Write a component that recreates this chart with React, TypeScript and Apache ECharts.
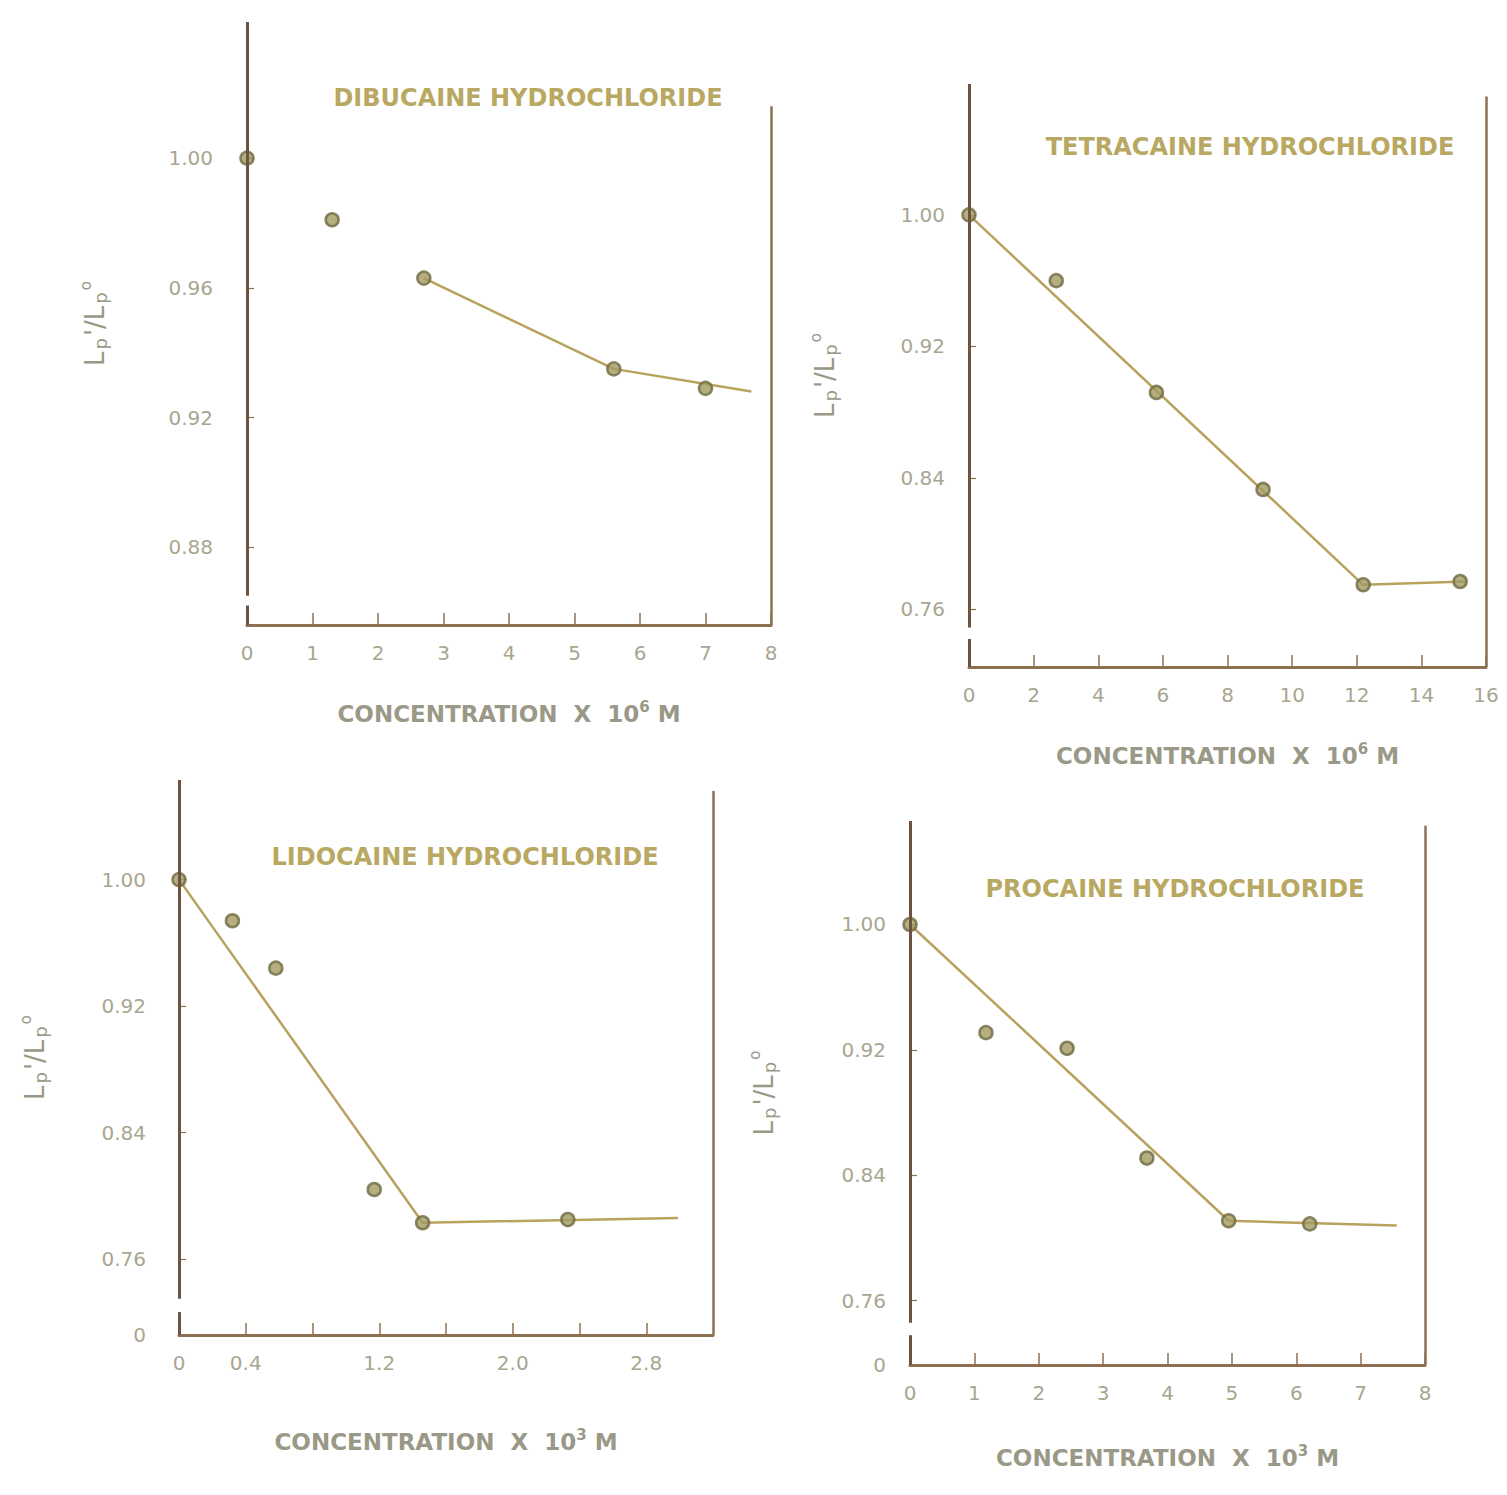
import React, { useEffect, useRef } from "react";
import * as echarts from "echarts";

// ---------- data ----------
const TITLES = [
  "DIBUCAINE HYDROCHLORIDE",
  "TETRACAINE HYDROCHLORIDE",
  "LIDOCAINE HYDROCHLORIDE",
  "PROCAINE HYDROCHLORIDE",
];
const X_EXPONENTS = ["6", "6", "3", "3"];

// Panel 1 – dibucaine (x 10^-6 M)
const P1_X = [0, 1.3, 2.7, 5.6, 7.0];
const P1_Y = [1.0, 0.981, 0.963, 0.935, 0.929];
const P1_FIT_X = [2.7, 5.6, 7.7];
const P1_FIT_Y = [0.963, 0.935, 0.928];
const P1_YLABELS = [0.88, 0.92, 0.96, 1.0];
const P1_XLABELS = [0, 1, 2, 3, 4, 5, 6, 7, 8];

// Panel 2 – tetracaine (x 10^-6 M)
const P2_X = [0, 2.7, 5.8, 9.1, 12.2, 15.2];
const P2_Y = [1.0, 0.96, 0.892, 0.833, 0.775, 0.777];
const P2_FIT_X = [0, 12.2, 15.4];
const P2_FIT_Y = [1.0, 0.775, 0.777];
const P2_YLABELS = [0.76, 0.84, 0.92, 1.0];
const P2_XLABELS = [0, 2, 4, 6, 8, 10, 12, 14, 16];

// Panel 3 – lidocaine (x 10^-3 M)
const P3_X = [0, 0.32, 0.58, 1.17, 1.46, 2.33];
const P3_Y = [1.0, 0.974, 0.944, 0.804, 0.783, 0.785];
const P3_FIT_X = [0, 1.46, 2.99];
const P3_FIT_Y = [1.0, 0.783, 0.786];
const P3_YLABELS = [0, 0.76, 0.84, 0.92, 1.0];
const P3_XLABELS = [0, 0.4, 1.2, 2.0, 2.8];
const P3_XTICKS = [0.4, 0.8, 1.2, 1.6, 2.0, 2.4, 2.8];

// Panel 4 – procaine (x 10^-3 M)
const P4_X = [0, 1.18, 2.44, 3.68, 4.95, 6.21];
const P4_Y = [1.0, 0.931, 0.921, 0.851, 0.811, 0.809];
const P4_FIT_X = [0, 4.95, 7.56];
const P4_FIT_Y = [1.0, 0.811, 0.808];
const P4_YLABELS = [0, 0.76, 0.84, 0.92, 1.0];
const P4_XLABELS = [0, 1, 2, 3, 4, 5, 6, 7, 8];

// ---------- styles / layout ----------
const AXIS_DARK = "#6e5440";
const AXIS_MID = "#8f7152";
const FIT_COLOR = "#b8a25e";
const MARK_FILL = "#a39a62";
const MARK_EDGE = "#6e6a40";
const LABEL_COLOR = "#a8a690";
const TITLE_COLOR = "#b9a862";
const NAME_COLOR = "#9a9886";
const FONT = "DejaVu Sans";

type Panel = {
  grid: { left: number; top: number; width: number; height: number };
  xMin: number; xMax: number; yMin: number; yMax: number;
  xs: number[]; ys: number[]; fx: number[]; fy: number[];
  yLabels: number[]; xLabels: number[]; xTicks: number[];
  yDigits: number; xDigits: number;
  yMargin: number; yNameGap: number; xNameGap: number;
  rightTop: number; breakTop: number; stubTop: number;
  title: [number, number];
};

const PANELS: Panel[] = [
  {
    grid: { left: 247, top: 22, width: 524, height: 603 },
    xMin: 0, xMax: 8, yMin: 0.856, yMax: 1.042,
    xs: P1_X, ys: P1_Y, fx: P1_FIT_X, fy: P1_FIT_Y,
    yLabels: P1_YLABELS, xLabels: P1_XLABELS, xTicks: P1_XLABELS,
    yDigits: 2, xDigits: 0, yMargin: 34, yNameGap: 136, xNameGap: 74,
    rightTop: 1.016, breakTop: 0.865, stubTop: 0.862, title: [528, 98],
  },
  {
    grid: { left: 969, top: 84, width: 517, height: 583 },
    xMin: 0, xMax: 16, yMin: 0.725, yMax: 1.0796,
    xs: P2_X, ys: P2_Y, fx: P2_FIT_X, fy: P2_FIT_Y,
    yLabels: P2_YLABELS, xLabels: P2_XLABELS, xTicks: P2_XLABELS,
    yDigits: 2, xDigits: 0, yMargin: 24, yNameGap: 128, xNameGap: 74,
    rightTop: 1.072, breakTop: 0.749, stubTop: 0.742, title: [1250, 147],
  },
  {
    grid: { left: 179, top: 780, width: 534, height: 555 },
    xMin: 0, xMax: 3.2, yMin: 0.712, yMax: 1.063,
    xs: P3_X, ys: P3_Y, fx: P3_FIT_X, fy: P3_FIT_Y,
    yLabels: P3_YLABELS, xLabels: P3_XLABELS, xTicks: P3_XTICKS,
    yDigits: 2, xDigits: 1, yMargin: 33, yNameGap: 128, xNameGap: 92,
    rightTop: 1.056, breakTop: 0.735, stubTop: 0.7265, title: [465, 857],
  },
  {
    grid: { left: 910, top: 821, width: 515, height: 544 },
    xMin: 0, xMax: 8, yMin: 0.719, yMax: 1.066,
    xs: P4_X, ys: P4_Y, fx: P4_FIT_X, fy: P4_FIT_Y,
    yLabels: P4_YLABELS, xLabels: P4_XLABELS, xTicks: P4_XLABELS,
    yDigits: 2, xDigits: 0, yMargin: 24, yNameGap: 130, xNameGap: 78,
    rightTop: 1.063, breakTop: 0.746, stubTop: 0.738, title: [1175, 889],
  },
];

function buildOption() {
  const grid: any[] = [];
  const xAxis: any[] = [];
  const yAxis: any[] = [];
  const series: any[] = [];
  const graphic: any[] = [];

  PANELS.forEach((p, i) => {
    grid.push({ ...p.grid, containLabel: false, show: false });

    xAxis.push({
      type: "value",
      gridIndex: i,
      min: p.xMin,
      max: p.xMax,
      name: `CONCENTRATION  X  10{s|${X_EXPONENTS[i]}} M`,
      nameLocation: "middle",
      nameGap: p.xNameGap,
      nameTextStyle: {
        color: NAME_COLOR,
        fontFamily: FONT,
        fontSize: 23,
        fontWeight: "bold",
        rich: {
          s: { fontSize: 15, color: NAME_COLOR, fontWeight: "bold", fontFamily: FONT, padding: [0, 0, 14, 0] },
        },
      },
      axisLine: { show: true, onZero: false, lineStyle: { color: AXIS_MID, width: 3 } },
      axisTick: {
        show: true,
        inside: true,
        length: 12,
        customValues: p.xTicks,
        lineStyle: { color: AXIS_MID, width: 1.5 },
      },
      axisLabel: {
        show: true,
        customValues: p.xLabels,
        margin: 18,
        color: LABEL_COLOR,
        fontFamily: FONT,
        fontSize: 20,
        formatter: (v: number) => (v === 0 ? "0" : v.toFixed(p.xDigits)),
      },
      splitLine: { show: false },
    });

    yAxis.push({
      type: "value",
      gridIndex: i,
      min: p.yMin,
      max: p.yMax,
      name: "{a|L}{b|p}{a|'/L}{b|p}{c|o}",
      nameLocation: "middle",
      nameRotate: 90,
      nameGap: p.yNameGap,
      nameTextStyle: {
        color: NAME_COLOR,
        fontFamily: FONT,
        rich: {
          a: { fontSize: 26, color: NAME_COLOR, fontFamily: FONT },
          b: { fontSize: 18, color: NAME_COLOR, fontFamily: FONT, padding: [12, 2, 0, 2] },
          c: { fontSize: 15, color: NAME_COLOR, fontFamily: FONT, padding: [0, 0, 18, 0] },
        },
      },
      axisLine: { show: false },
      axisTick: {
        show: true,
        inside: true,
        length: 7,
        customValues: p.yLabels.map((v) => (v === 0 ? p.yMin : v)),
        lineStyle: { color: AXIS_MID, width: 1.2 },
      },
      axisLabel: {
        show: true,
        customValues: p.yLabels.map((v) => (v === 0 ? p.yMin : v)),
        margin: p.yMargin,
        color: LABEL_COLOR,
        fontFamily: FONT,
        fontSize: 20,
        formatter: (v: number) => (Math.abs(v - p.yMin) < 1e-6 ? "0" : v.toFixed(p.yDigits)),
      },
      splitLine: { show: false },
    });

    // fitted line + frame segments (left axis with break, right border)
    series.push({
      type: "line",
      xAxisIndex: i,
      yAxisIndex: i,
      data: p.fx.map((x, k) => [x, p.fy[k]]),
      showSymbol: false,
      symbol: "none",
      clip: false,
      silent: true,
      lineStyle: { color: FIT_COLOR, width: 2.5 },
      z: 2,
      markLine: {
        silent: true,
        symbol: "none",
        label: { show: false },
        lineStyle: { color: AXIS_DARK, width: 3, type: "solid" },
        data: [
          [{ coord: [p.xMin, p.breakTop] }, { coord: [p.xMin, p.yMax] }],
          [{ coord: [p.xMin, p.yMin] }, { coord: [p.xMin, p.stubTop] }],
          [
            { coord: [p.xMax, p.yMin], lineStyle: { color: AXIS_MID, width: 2.5 } },
            { coord: [p.xMax, p.rightTop] },
          ],
        ],
      },
    });

    series.push({
      type: "scatter",
      xAxisIndex: i,
      yAxisIndex: i,
      data: p.xs.map((x, k) => [x, p.ys[k]]),
      symbol: "circle",
      symbolSize: 13,
      clip: false,
      itemStyle: { color: MARK_FILL, borderColor: MARK_EDGE, borderWidth: 2.5 },
      z: 3,
    });

    graphic.push({
      type: "text",
      x: p.title[0],
      y: p.title[1],
      style: {
        text: TITLES[i],
        fill: TITLE_COLOR,
        font: `bold 24px "${FONT}"`,
        textAlign: "center",
        textVerticalAlign: "middle",
      },
    });
  });

  return {
    animation: false,
    backgroundColor: "#ffffff",
    grid,
    xAxis,
    yAxis,
    series,
    graphic,
  };
}

export default function App() {
  const ref = useRef<HTMLDivElement>(null);
  useEffect(() => {
    document.body.style.margin = "0";
    if (!ref.current) return;
    const chart = echarts.init(ref.current, undefined, { renderer: "svg" });
    chart.setOption(buildOption() as any);
    return () => chart.dispose();
  }, []);
  return <div ref={ref} style={{ width: 1507, height: 1495, background: "#fff" }} />;
}
